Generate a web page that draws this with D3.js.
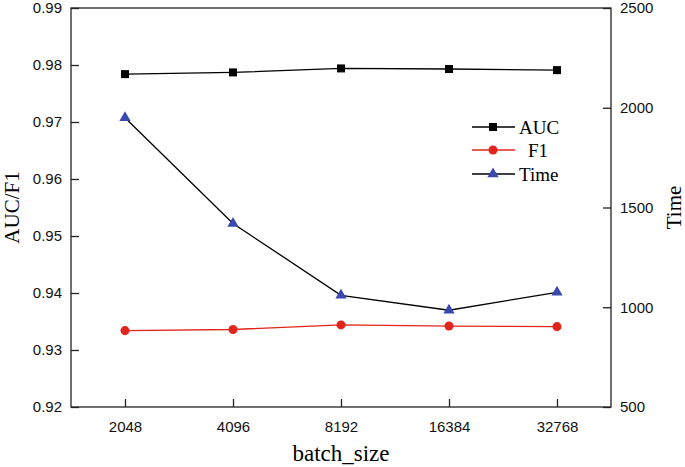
<!DOCTYPE html>
<html>
<head>
<meta charset="utf-8">
<script src="https://cdn.jsdelivr.net/npm/d3@7"></script>
<style>
  html, body { margin: 0; padding: 0; background: #fff; }
  svg { display: block; }
</style>
</head>
<body>
<svg id="chart" width="685" height="467"></svg>
<script>
const categories = ["2048", "4096", "8192", "16384", "32768"];
const aucValues = [0.9784, 0.9787, 0.9794, 0.9793, 0.9791];
const f1Values = [0.9334, 0.9336, 0.9344, 0.9342, 0.9341];
const timeValues = [1950, 1420, 1060, 985, 1075];
const leftTicks = [0.92, 0.93, 0.94, 0.95, 0.96, 0.97, 0.98, 0.99];
const rightTicks = [500, 1000, 1500, 2000, 2500];
const legendLabels = ["AUC", "F1", "Time"];

const svg = d3.select("#chart");
const L = 71, R = 611, T = 8, B = 407;
const black = "#000", red = "#e0261c", blue = "#3b48ad";

const x = d3.scalePoint().domain(categories).range([L, R]).padding(0.5);
const yL = d3.scaleLinear().domain([0.92, 0.99]).range([B, T]);
const yR = d3.scaleLinear().domain([500, 2500]).range([B, T]);

// frame
svg.append("rect").attr("x", L).attr("y", T).attr("width", R - L).attr("height", B - T)
  .attr("fill", "none").attr("stroke", "#222").attr("stroke-width", 1.3);

const tickFont = "'Liberation Sans', Arial, sans-serif";
const serif = "'Liberation Serif', 'Times New Roman', serif";

// left axis (ticks inward)
const gl = svg.append("g").attr("transform", `translate(${L},0)`)
  .call(d3.axisRight(yL).tickValues(leftTicks).tickSize(8).tickFormat(d3.format(".2f")));
gl.select(".domain").remove();
gl.selectAll("line").attr("stroke", "#222").attr("stroke-width", 1.3);
gl.selectAll("text").attr("x", -9).attr("text-anchor", "end")
  .style("font-family", tickFont).style("font-size", "15px").attr("fill", "#111");

// right axis (ticks inward)
const gr = svg.append("g").attr("transform", `translate(${R},0)`)
  .call(d3.axisLeft(yR).tickValues(rightTicks).tickSize(8).tickFormat(d3.format("d")));
gr.select(".domain").remove();
gr.selectAll("line").attr("stroke", "#222").attr("stroke-width", 1.3);
gr.selectAll("text").attr("x", 9).attr("text-anchor", "start")
  .style("font-family", tickFont).style("font-size", "15px").attr("fill", "#111");

// bottom axis (ticks inward)
const gb = svg.append("g").attr("transform", `translate(0,${B})`)
  .call(d3.axisTop(x).tickSize(8));
gb.select(".domain").remove();
gb.selectAll("line").attr("stroke", "#222").attr("stroke-width", 1.3);
gb.selectAll("text").attr("y", 14).attr("dy", "0.71em")
  .style("font-family", tickFont).style("font-size", "15px").attr("fill", "#111");

// axis titles
svg.append("text").attr("x", (L + R) / 2).attr("y", 461).attr("text-anchor", "middle")
  .style("font-family", serif).style("font-size", "23px").text("batch_size");
svg.append("text").attr("transform", `translate(19,${(T + B) / 2}) rotate(-90)`)
  .attr("text-anchor", "middle").style("font-family", serif).style("font-size", "21px").text("AUC/F1");
svg.append("text").attr("transform", `translate(681,${(T + B) / 2}) rotate(-90)`)
  .attr("text-anchor", "middle").style("font-family", serif).style("font-size", "21px").text("Time");

// lines
const lineL = d3.line().x((d, i) => x(categories[i])).y(d => yL(d));
const lineR = d3.line().x((d, i) => x(categories[i])).y(d => yR(d));

svg.append("path").datum(timeValues).attr("d", lineR).attr("fill", "none").attr("stroke", black).attr("stroke-width", 1.3);
svg.append("path").datum(aucValues).attr("d", lineL).attr("fill", "none").attr("stroke", black).attr("stroke-width", 1.3);
svg.append("path").datum(f1Values).attr("d", lineL).attr("fill", "none").attr("stroke", red).attr("stroke-width", 1.3);

const sq = d3.symbol().type(d3.symbolSquare).size(64);
const ci = d3.symbol().type(d3.symbolCircle).size(64);
const tr = d3.symbol().type(d3.symbolTriangle).size(55);

svg.selectAll(".auc").data(aucValues).enter().append("path")
  .attr("d", sq).attr("transform", (d, i) => `translate(${x(categories[i])},${yL(d)})`).attr("fill", black);
svg.selectAll(".f1").data(f1Values).enter().append("path")
  .attr("d", ci).attr("transform", (d, i) => `translate(${x(categories[i])},${yL(d)})`).attr("fill", red);
svg.selectAll(".tm").data(timeValues).enter().append("path")
  .attr("d", tr).attr("transform", (d, i) => `translate(${x(categories[i])},${yR(d)})`).attr("fill", blue);

// legend
const legRows = [127, 150, 174];
const legText = [519, 528, 519];
const legLine = [black, red, black];
const legSym = [sq, ci, tr];
const legFill = [black, red, blue];
legendLabels.forEach((lab, i) => {
  const y = legRows[i];
  svg.append("line").attr("x1", 472).attr("x2", 515).attr("y1", y).attr("y2", y)
    .attr("stroke", legLine[i]).attr("stroke-width", 1.3);
  svg.append("path").attr("d", legSym[i]).attr("transform", `translate(493,${y})`).attr("fill", legFill[i]);
  svg.append("text").attr("x", legText[i]).attr("y", y).attr("dy", "0.35em")
    .style("font-family", serif).style("font-size", "19px").text(lab);
});
</script>
</body>
</html>
